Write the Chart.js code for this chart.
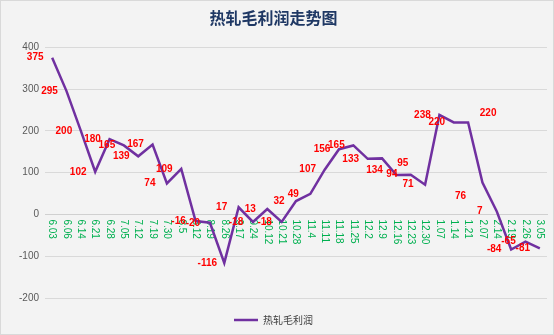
<!DOCTYPE html>
<html><head><meta charset="utf-8">
<script src="https://cdn.jsdelivr.net/npm/chart.js@4.4.1/dist/chart.umd.min.js"></script>
<style>html,body{margin:0;padding:0;background:#f3f3f3}#wrap{width:554px;height:335px}</style>
</head><body><div id="wrap"><canvas id="c" width="554" height="335"></canvas></div>
<script>
const categories = ['6.03','6.06','6.14','6.21','6.28','7.05','7.12','7.19','7.30','8.5','8.12','8.19','8.26','9.17','9.24','10.12','10.21','10.28','11.4','11.11','11.18','11.25','12.2','12.9','12.16','12.23','12.30','1.07','1.14','1.21','2.07','2.14','2.19','2.26','3.05'];
const profit = [375,295,200,102,180,165,139,167,74,109,-16,-20,-116,17,-18,13,-18,32,49,107,156,165,133,134,94,95,71,238,220,220,76,7,-84,-65,-81];
const yTicks = [-200,-100,0,100,200,300,400];
const seriesName = '热轧毛利润';
const chartTitle = '热轧毛利润走势图';

// label placement (style, not data): default offset and a few exceptions
const labelOffsetDefault = [-17, 0];
const labelOffsetOverrides = {23:[-7.5,12], 24:[-4.5,-1], 25:[-8,-11], 29:[20,-9], 30:[-22,14]};

const decor = {
  id: 'decor',
  beforeDraw(chart) {
    const {ctx, width, height} = chart;
    ctx.save();
    ctx.fillStyle = '#f3f3f3';
    ctx.fillRect(0, 0, width, height);
    ctx.strokeStyle = '#d9d9d9';
    ctx.lineWidth = 1;
    ctx.strokeRect(0.5, 0.5, width - 1, height - 1);
    ctx.restore();
  },
  beforeDatasetsDraw(chart) {
    const xs = chart.scales.x, ys = chart.scales.y, ctx = chart.ctx;
    const y0 = ys.getPixelForValue(0) + 5;
    ctx.save();
    ctx.fillStyle = '#00b050';
    ctx.font = '10px "Liberation Sans", Arial, sans-serif';
    ctx.textAlign = 'left';
    ctx.textBaseline = 'middle';
    chart.data.labels.forEach((lab, i) => {
      const x = xs.getPixelForTick(i);
      ctx.save();
      ctx.translate(x, y0);
      ctx.rotate(Math.PI / 2);
      ctx.fillText(lab, 0, 0);
      ctx.restore();
    });
    ctx.restore();
  },
  afterDatasetsDraw(chart) {
    const ctx = chart.ctx;
    const meta = chart.getDatasetMeta(0);
    const data = chart.data.datasets[0].data;
    ctx.save();
    ctx.fillStyle = '#ff0000';
    ctx.font = 'bold 10px "Liberation Sans", Arial, sans-serif';
    ctx.textAlign = 'center';
    ctx.textBaseline = 'middle';
    meta.data.forEach((pt, i) => {
      const o = labelOffsetOverrides[i] || labelOffsetDefault;
      ctx.fillText(String(data[i]), pt.x + o[0], pt.y + o[1]);
    });
    ctx.restore();
  }
};

new Chart(document.getElementById('c'), {
  type: 'line',
  data: {
    labels: categories,
    datasets: [{
      label: seriesName,
      data: profit,
      borderColor: '#7030a0',
      backgroundColor: '#7030a0',
      borderWidth: 2.5,
      pointRadius: 0,
      pointHoverRadius: 0,
      tension: 0,
      fill: false
    }]
  },
  options: {
    responsive: false,
    animation: false,
    events: [],
    layout: {padding: {left: 0, right: 7, top: 0, bottom: 0}},
    plugins: {
      title: {display: true, text: chartTitle, color: '#1f3864',
        font: {family: '"Noto Sans CJK SC"', size: 16, weight: 'bold'},
        padding: {top: 8, bottom: 20}},
      legend: {position: 'bottom',
        labels: {usePointStyle: true, pointStyle: 'line', pointStyleWidth: 24, padding: 17,
          color: '#404040', font: {family: '"Noto Sans CJK SC"', size: 10}}},
      tooltip: {enabled: false}
    },
    scales: {
      x: {type: 'category', position: {y: 0}, offset: true,
        grid: {display: false, drawTicks: false},
        border: {display: true, color: '#d0d0d0'},
        ticks: {display: false}},
      y: {min: yTicks[0], max: yTicks[yTicks.length - 1],
        afterBuildTicks(s) { s.ticks = yTicks.map(v => ({value: v})); },
        ticks: {color: '#595959', padding: 6, font: {size: 10, family: '"Liberation Sans"'}},
        grid: {color: '#d9d9d9', drawTicks: false},
        border: {display: false},
        afterFit(s) { s.width = 45; }}
    }
  },
  plugins: [decor]
});
</script>
</body></html>
